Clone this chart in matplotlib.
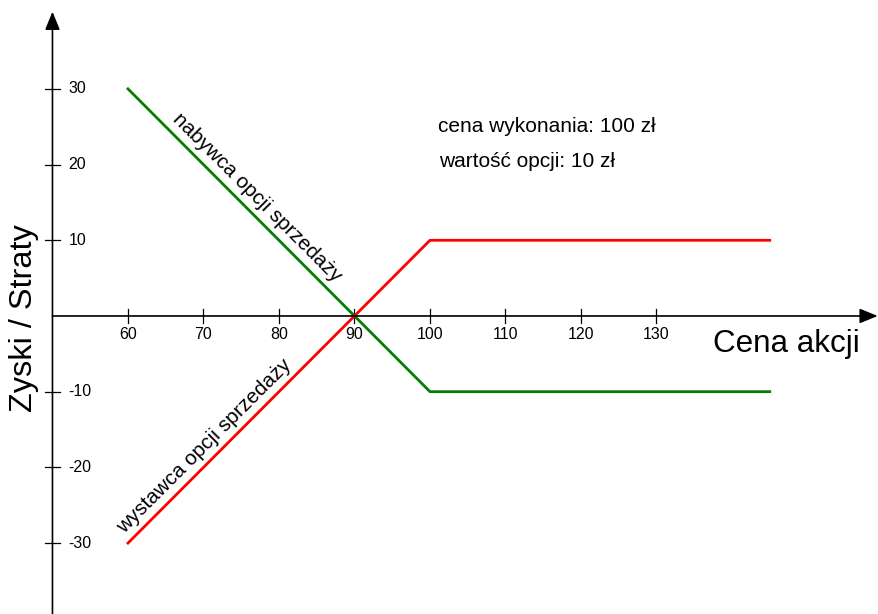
import matplotlib.pyplot as plt

plt.rcParams['font.family'] = ['Liberation Sans', 'DejaVu Sans']

# Dane
ceny = [60, 100, 145]
nabywca = [30, -10, -10]
wystawca = [-30, 10, 10]
xticks = [60, 70, 80, 90, 100, 110, 120, 130]
yticks = [30, 20, 10, -10, -20, -30]

fig = plt.figure(figsize=(8.79, 6.14), dpi=100)
ax = fig.add_axes([0, 0, 1, 1])
ax.set_xlim(43.05, 159.47)
ax.set_ylim(-39.37, 41.74)
ax.axis('off')

# osie ze strzalkami
strzalka = dict(arrowstyle='-|>,head_length=1.1,head_width=0.45', color='black', lw=1.2,
                shrinkA=0, shrinkB=0)
ax.annotate('', xy=(50, 40.2), xytext=(50, -39.5), arrowprops=strzalka)
ax.annotate('', xy=(159.3, 0), xytext=(50, 0), arrowprops=strzalka)

# ticki
for t in xticks:
    ax.plot([t, t], [-0.95, 0.95], color='black', lw=0.9)
    ax.text(t, -1.5, str(t), ha='center', va='top', fontsize=11.5)
for t in yticks:
    ax.plot([49.0, 51.0], [t, t], color='black', lw=0.9)
    ax.text(52.1, t, str(t), ha='left', va='center', fontsize=11.5)

ax.plot(ceny, nabywca, color='#008000', lw=2)
ax.plot(ceny, wystawca, color='#ff0000', lw=2)

ax.text(77.15, 15.65, 'nabywca opcji sprzedaży', rotation=-45, rotation_mode='anchor',
        ha='center', va='center', fontsize=14.9)
ax.text(70.07, -17.2, 'wystawca opcji sprzedaży', rotation=45, rotation_mode='anchor',
        ha='center', va='center', fontsize=14.9)

ax.text(101.0, 25.0, 'cena wykonania: 100 zł', ha='left', va='center', fontsize=15)
ax.text(101.2, 20.4, 'wartość opcji: 10 zł', ha='left', va='center', fontsize=15)

ax.text(137.5, -3.7, 'Cena akcji', ha='left', va='center', fontsize=22.6)
ax.text(46.2, -0.26, 'Zyski / Straty', rotation=90, ha='center', va='center', fontsize=23.4)

fig.savefig('out.png', dpi=100)
